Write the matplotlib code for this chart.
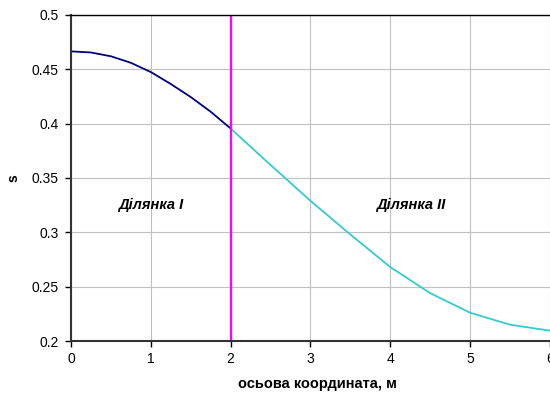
import matplotlib
matplotlib.use("Agg")
import matplotlib.pyplot as plt

plt.rcParams['font.family'] = ['Liberation Sans', 'DejaVu Sans']

# ділянка I
x1 = [0, 0.25, 0.5, 0.75, 1.0, 1.25, 1.5, 1.75, 2.0]
s1 = [0.4665, 0.4655, 0.462, 0.456, 0.4475, 0.4365, 0.4245, 0.411, 0.3955]
# ділянка II
x2 = [2.0, 2.5, 3.0, 3.5, 4.0, 4.5, 5.0, 5.5, 6.0]
s2 = [0.3955, 0.362, 0.329, 0.298, 0.268, 0.244, 0.226, 0.215, 0.2095]

xticks = [0, 1, 2, 3, 4, 5, 6]
yticks = [0.2, 0.25, 0.3, 0.35, 0.4, 0.45, 0.5]
ylabels = ['0.2', '0.25', '0.3', '0.35', '0.4', '0.45', '0.5']

fig = plt.figure(figsize=(5.5, 3.94), dpi=100)
ax = fig.add_axes([0.129, 0.1345, 0.871, 0.8275])

ax.plot(x1, s1, color='#000080', lw=1.3)
ax.plot(x2, s2, color='#33cccc', lw=1.3)
ax.axvline(2, color='#ff00ff', lw=1.6)

ax.set_xlim(0, 6)
ax.set_ylim(0.2, 0.5)
ax.set_xticks(xticks)
ax.set_yticks(yticks)
ax.set_yticklabels(ylabels)
ax.grid(True, color='#c0c0c0', lw=0.8)
ax.set_axisbelow(True)
ax.tick_params(labelsize=10, length=4, width=1, direction='out', pad=5)
ax.tick_params(axis='x', pad=4)

for sp in ['left', 'bottom']:
    ax.spines[sp].set_linewidth(1.5)
    ax.spines[sp].set_color('#333333')
ax.spines['top'].set_linewidth(1)
ax.spines['right'].set_visible(False)

ax.text(1.0, 0.325, 'Ділянка I', fontsize=10.5, fontweight='bold', style='italic', ha='center', va='center')
ax.text(4.25, 0.325, 'Ділянка II', fontsize=10.5, fontweight='bold', style='italic', ha='center', va='center')

ax.set_xlabel('осьова координата, м', fontsize=10.5, fontweight='bold')
ax.xaxis.set_label_coords(0.515, -0.11)
ax.set_ylabel('s', fontsize=10, fontweight='bold', labelpad=8)

fig.savefig('out.png', dpi=100)
